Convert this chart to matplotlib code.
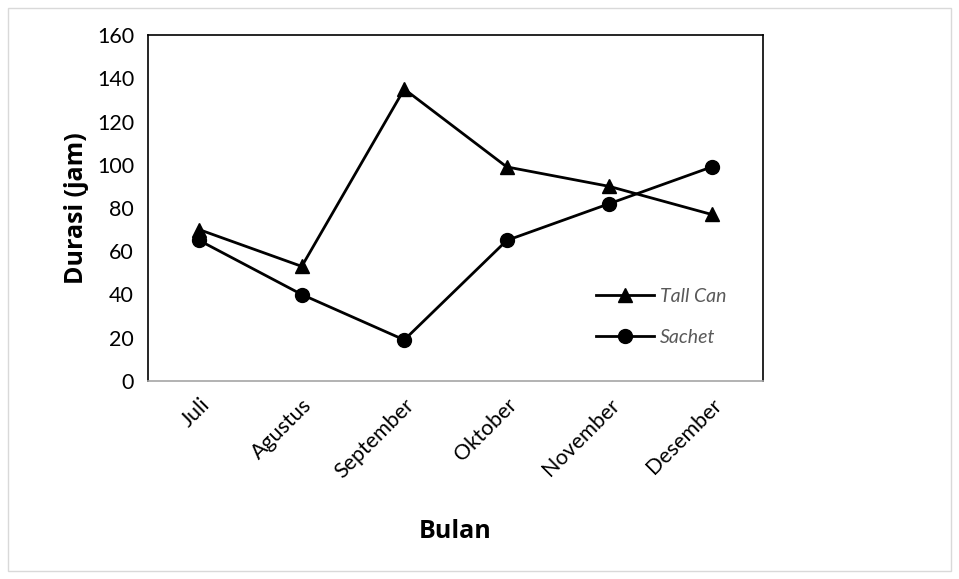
import matplotlib.pyplot as plt
from matplotlib.patches import Rectangle

# Data
bulan = ["Juli", "Agustus", "September", "Oktober", "November", "Desember"]
tall_can = [70, 53, 135, 99, 90, 77]
sachet = [65, 40, 19, 65, 82, 99]

plt.rcParams['font.family'] = ['Lato', 'DejaVu Sans']

fig = plt.figure(figsize=(9.59, 5.79), dpi=100)
W, H = 959, 579
ax = fig.add_axes([148 / W, 1 - 381 / H, (763 - 148) / W, (381 - 35) / H])

x = range(len(bulan))
ax.plot(x, tall_can, color="black", lw=2, marker="^", ms=10, label="Tall Can")
ax.plot(x, sachet, color="black", lw=2, marker="o", ms=10, label="Sachet")

ax.set_xlim(-0.5, len(bulan) - 0.5)
ax.set_ylim(0, 160)
ax.set_yticks(range(0, 161, 20))
ax.set_xticks(list(x))
ax.set_xticklabels(bulan, rotation=45, ha="right", rotation_mode="anchor")
ax.tick_params(axis="both", length=0, labelsize=15.5, colors="black")
ax.tick_params(axis="x", pad=10)
ax.tick_params(axis="y", pad=10)

for s in ["top", "right", "left"]:
    ax.spines[s].set_color("black")
    ax.spines[s].set_linewidth(1.2)
ax.spines["bottom"].set_color("#a6a6a6")
ax.spines["bottom"].set_linewidth(1.2)

ax.set_ylabel("Durasi (jam)", fontsize=18, fontweight="bold", labelpad=6,
              family="Open Sans")
fig.text(455 / W, 1 - 532 / H, "Bulan", fontsize=18, fontweight="bold",
         ha="center", va="center", family="Open Sans")

leg = ax.legend(loc="center left", bbox_to_anchor=(0.7, 0.185), frameon=False,
                fontsize=14, handlelength=3.0, labelspacing=1.25,
                handletextpad=0.3, labelcolor="#595959")
for t in leg.get_texts():
    t.set_fontstyle("italic")

fig.patches.append(Rectangle((8 / W, 8 / H), (951 - 8) / W, (571 - 8) / H,
                             transform=fig.transFigure, fill=False,
                             edgecolor="#d9d9d9", lw=1))

fig.savefig("out.png", dpi=100)
